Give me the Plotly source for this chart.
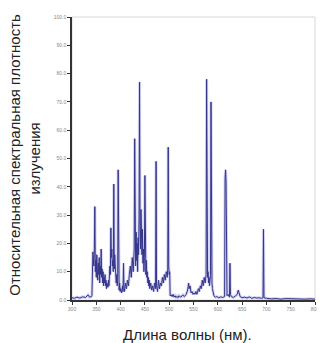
import plotly.graph_objects as go

wavelength = [300, 305, 310, 316, 322, 328, 333, 336, 340, 341,
              343, 344, 345, 346, 347, 348, 349, 350, 351, 352, 353, 354, 355, 356, 357, 358, 359, 360,
              361, 362, 363, 364, 365, 366, 367, 368, 369, 370, 371, 372, 373, 374, 375, 376, 377, 378,
              379, 380, 381, 382, 383, 384, 385, 386, 387, 388, 389, 390, 391, 392, 393, 394, 395, 396,
              397, 398, 399, 400, 402, 404, 405, 406, 407, 408, 410, 412, 414, 416, 418, 420, 422, 424,
              426, 428, 429, 430, 431, 432, 433, 434, 435, 436, 437, 438, 439, 440, 441, 442, 443, 444,
              445, 446, 447, 448, 449, 450, 451, 452, 453, 454, 455, 456, 457, 458, 459, 460, 462, 464,
              466, 468, 470, 472, 473, 474, 476, 478, 480, 482, 484, 486, 488, 490, 492, 494, 496, 497,
              498, 499, 500, 501, 502, 504, 506, 508, 510, 512, 514, 516, 518, 520, 524, 528, 531, 535,
              538, 540, 541, 543, 545, 547, 549, 551, 553, 555, 557, 560, 562, 564, 566, 568, 570, 572,
              574, 576, 577, 578, 579, 580, 581, 582, 583, 585, 586, 587, 588, 589, 590, 592, 595, 598,
              602, 606, 610, 614, 615, 616, 617, 618, 619, 621, 624, 625, 626, 628, 632, 636, 640, 642,
              644, 646, 650, 655, 660, 665, 670, 675, 680, 685, 690, 693, 694, 695, 700, 710, 720, 730,
              740, 750, 760, 770, 780, 790, 800]

intensity = [0.8, 0.6, 1.0, 0.7, 1.1, 0.9, 1.8, 1.0, 1.2, 1.5,
             17, 14, 12, 18, 33, 10, 14, 8, 16, 11, 7, 13, 9, 15, 6, 12, 9, 18,
             8, 11, 6, 10, 5, 8, 6, 9, 5, 7, 4, 6, 5, 4.5, 7, 5, 10, 12,
             9, 25.5, 15, 18, 12, 14, 10, 41, 11, 16, 12, 8, 6, 9, 5, 7, 46, 5,
             3.5, 6, 3, 4, 2.5, 5, 3, 13, 4, 3, 6, 4, 7, 5, 9, 12, 8, 15,
             10, 18, 57, 20, 12, 24, 14, 20, 10, 22, 16, 30, 77, 26, 18, 32, 20, 16,
             25, 13, 18, 10, 15, 44, 12, 9, 14, 8, 10, 6, 8, 5, 7, 4, 6, 3.5,
             5, 3, 6, 4, 49, 5, 3, 7, 4, 6, 5, 8, 6, 9, 7, 10, 8, 11,
             54, 12, 9, 10, 1.5, 1.8, 1.2, 2.0, 1.0, 1.5, 0.9, 1.3, 0.8, 1.5, 1.0, 1.8, 1.2, 2.0,
             3.5, 6, 4, 5, 2.5, 3, 2, 2.5, 2, 3, 2, 4, 3, 5, 4, 7, 5, 8,
             6, 9, 78, 14, 8, 10, 6, 8, 5, 9, 70, 12, 6, 4, 2.5, 1.5, 1.0, 1.2,
             0.8, 1.1, 0.9, 1.2, 43, 46, 42, 4, 1.5, 2, 1.0, 13, 2, 1.2, 0.9, 1.4, 2.0, 3.5,
             2.5, 1.2, 0.8, 1.0, 0.7, 1.1, 0.6, 0.9, 0.7, 0.8, 0.6, 0.8, 25, 0.8, 0.6, 0.4, 0.5, 0.3,
             0.5, 0.4, 0.3, 0.4, 0.3, 0.4, 0.3]

x_ticks = [300, 350, 400, 450, 500, 550, 600, 650, 700, 750, 800]
y_ticks = [0, 10, 20, 30, 40, 50, 60, 70, 80, 90, 100]
y_tick_labels = ["0.0", "10.0", "20.0", "30.0", "40.0", "50.0", "60.0", "70.0", "80.0", "90.0", "100.0"]

y_title_lines = ["Относительная спектральная плотность", "излучения"]
x_title = "Длина волны (нм)."

fig = go.Figure()
fig.add_trace(go.Scatter(x=wavelength, y=intensity, mode="lines",
                         line=dict(color="rgba(130,130,220,0.35)", width=3),
                         hoverinfo="skip", showlegend=False))
fig.add_trace(go.Scatter(x=wavelength, y=intensity, mode="lines",
                         line=dict(color="#35358a", width=1), showlegend=False))

fig.add_shape(type="rect", xref="paper", yref="paper", x0=0, y0=0, x1=1, y1=1,
              line=dict(color="#d8d8d8", width=1), layer="below")

fig.update_layout(
    width=317, height=335,
    margin=dict(l=64, r=7, t=6, b=43),
    paper_bgcolor="white", plot_bgcolor="white",
    font=dict(family="Liberation Sans, Arial, sans-serif", color="#222"),
    xaxis=dict(range=[300, 800], tickvals=x_ticks, ticks="outside", ticklen=3,
               tickcolor="#333", showline=True, linecolor="#333", linewidth=1.5,
               showgrid=False, zeroline=False,
               tickfont=dict(size=5, color="#888")),
    yaxis=dict(range=[0, 100], tickvals=y_ticks, ticktext=y_tick_labels, ticks="outside",
               ticklen=3, tickcolor="#333", showline=True, linecolor="#333", linewidth=1.5,
               showgrid=False, zeroline=False,
               tickfont=dict(size=5, color="#888")),
    annotations=[
        dict(text=y_title_lines[0], textangle=-90,
             xref="paper", yref="paper", x=-0.238, y=0.514, xanchor="center", yanchor="middle",
             showarrow=False, font=dict(size=15, color="#222")),
        dict(text=y_title_lines[1], textangle=-90,
             xref="paper", yref="paper", x=-0.156, y=0.5, xanchor="center", yanchor="middle",
             showarrow=False, font=dict(size=15, color="#222")),
        dict(text=x_title, xref="paper", yref="paper", x=0.474, y=-0.122,
             xanchor="center", yanchor="middle", showarrow=False,
             font=dict(size=15, color="#222")),
    ],
)

fig.write_html("out.html")
